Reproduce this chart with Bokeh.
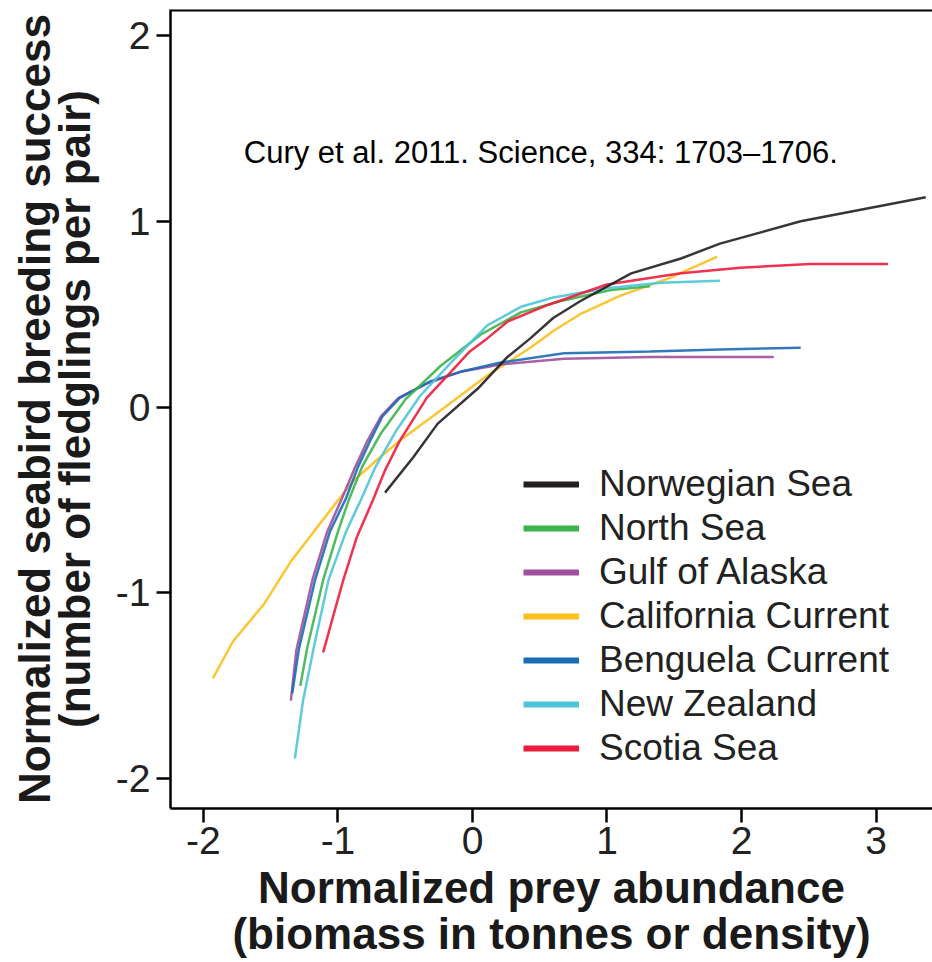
from bokeh.plotting import figure
from bokeh.models import (Range1d, Legend, LegendItem, Label, Span, FixedTicker,
                          CustomJSTickFormatter)
from bokeh.embed import file_html
from bokeh.resources import INLINE

# ---------------- data ----------------
norwegian_x = [-0.65, -0.44, -0.26, 0.04, 0.26, 0.43, 0.60, 0.80, 1.18, 1.55, 1.84, 2.44, 3.37]
norwegian_y = [-0.46, -0.27, -0.09, 0.10, 0.27, 0.37, 0.48, 0.57, 0.72, 0.80, 0.88, 1.00, 1.13]

north_sea_x = [-1.28, -1.23, -1.11, -1.00, -0.92, -0.82, -0.68, -0.50, -0.24, 0.06, 0.36, 0.65, 1.03, 1.32]
north_sea_y = [-1.50, -1.30, -0.93, -0.67, -0.50, -0.32, -0.14, 0.04, 0.22, 0.39, 0.51, 0.57, 0.63, 0.65]

alaska_x = [-1.35, -1.31, -1.19, -1.08, -0.97, -0.87, -0.78, -0.68, -0.55, -0.33, -0.09, 0.21, 0.68, 1.32, 2.24]
alaska_y = [-1.58, -1.31, -0.93, -0.67, -0.49, -0.32, -0.18, -0.05, 0.05, 0.13, 0.19, 0.23, 0.26, 0.27, 0.27]

california_x = [-1.93, -1.78, -1.55, -1.35, -1.18, -1.03, -0.89, -0.72, -0.54, -0.24, 0.11, 0.43, 0.60, 0.80, 1.10, 1.45, 1.82]
california_y = [-1.46, -1.26, -1.06, -0.83, -0.67, -0.53, -0.40, -0.29, -0.18, -0.02, 0.17, 0.32, 0.41, 0.50, 0.60, 0.69, 0.81]

benguela_x = [-1.34, -1.29, -1.17, -1.06, -0.94, -0.85, -0.76, -0.67, -0.54, -0.31, -0.09, 0.21, 0.68, 1.32, 1.84, 2.44]
benguela_y = [-1.54, -1.30, -0.93, -0.67, -0.49, -0.32, -0.18, -0.05, 0.05, 0.14, 0.19, 0.24, 0.29, 0.30, 0.31, 0.32]

new_zealand_x = [-1.32, -1.26, -1.17, -1.07, -0.94, -0.83, -0.72, -0.57, -0.39, -0.16, 0.11, 0.36, 0.60, 1.00, 1.40, 1.84]
new_zealand_y = [-1.89, -1.58, -1.26, -0.93, -0.67, -0.50, -0.32, -0.13, 0.06, 0.24, 0.44, 0.54, 0.59, 0.64, 0.67, 0.68]

scotia_x = [-1.11, -1.03, -0.96, -0.86, -0.74, -0.65, -0.54, -0.34, -0.16, -0.02, 0.11, 0.26, 0.56, 1.00, 1.55, 1.99, 2.51, 3.09]
scotia_y = [-1.32, -1.11, -0.93, -0.70, -0.50, -0.34, -0.18, 0.05, 0.19, 0.30, 0.37, 0.46, 0.55, 0.66, 0.72, 0.75, 0.77, 0.77]

series_names = ["Norwegian Sea", "North Sea", "Gulf of Alaska", "California Current",
                "Benguela Current", "New Zealand", "Scotia Sea"]
series_colors = ["#231f20", "#3cb44b", "#a0509c", "#fbbf1e", "#1c6cb4", "#4dc4d8", "#ec1c3c"]
series_x = [norwegian_x, north_sea_x, alaska_x, california_x, benguela_x, new_zealand_x, scotia_x]
series_y = [norwegian_y, north_sea_y, alaska_y, california_y, benguela_y, new_zealand_y, scotia_y]

x_ticks = [-2, -1, 0, 1, 2, 3]
y_ticks = [-2, -1, 0, 1, 2]

citation = "Cury et al. 2011. Science, 334: 1703\u20131706."
x_title = "Normalized prey abundance\n(biomass in tonnes or density)"
y_title = "Normalized seabird breeding success\n(number of fledglings per pair)"

# ---------------- layout / style ----------------
W, H = 932, 962
X_START, X_END = -2.245, 3.42
Y_START, Y_END = -2.16, 2.14
CITE_X, CITE_Y = -1.70, 1.37
FONT = "Liberation Sans"

p = figure(width=W, height=H, output_backend="svg", toolbar_location=None,
           x_range=Range1d(X_START, X_END), y_range=Range1d(Y_START, Y_END),
           min_border_left=170, min_border_right=0, min_border_top=9, min_border_bottom=154)
p.outline_line_color = None
p.grid.visible = False
p.background_fill_color = "white"
p.border_fill_color = "white"

for ax, ticks in ((p.xaxis[0], x_ticks), (p.yaxis[0], y_ticks)):
    ax.ticker = FixedTicker(ticks=ticks)
    ax.formatter = CustomJSTickFormatter(code="return tick.toFixed(0)")
    ax.minor_tick_line_color = None
    ax.axis_line_width = 2.5
    ax.axis_line_color = "black"
    ax.major_tick_line_width = 2.5
    ax.major_tick_line_color = "black"
    ax.major_tick_out = 14
    ax.major_tick_in = 0
    ax.major_label_text_font = FONT
    ax.major_label_text_font_size = "39px"
    ax.major_label_text_color = "#222222"
    ax.axis_label_text_font = FONT
    ax.axis_label_text_font_size = "44px"
    ax.axis_label_text_font_style = "bold"
    ax.axis_label_text_color = "#1a1a1a"

p.xaxis.axis_label = x_title
p.yaxis.axis_label = y_title
p.xaxis.axis_label_text_line_height = 0.95
p.yaxis.axis_label_text_line_height = 0.82
p.xaxis.major_label_standoff = 4
p.yaxis.major_label_standoff = 6
p.xaxis.axis_label_standoff = 6
p.yaxis.axis_label_standoff = 14

# top border of the frame
p.add_layout(Span(location=Y_END, dimension="width", line_color="black", line_width=4))

# curves (drawn thin)
draw_order = [3, 2, 4, 1, 5, 6, 0]
for i in draw_order:
    p.line(series_x[i], series_y[i], line_color=series_colors[i], line_width=2.5, line_alpha=0.9)

# legend proxies (a single point draws no line, but gives a thick legend swatch)
items = []
for name, color, xs, ys in zip(series_names, series_colors, series_x, series_y):
    r = p.line(x=xs[:1], y=ys[:1], line_color=color, line_width=6)
    items.append(LegendItem(label=name, renderers=[r]))

legend = Legend(items=items, location=(353, 38), border_line_color=None,
                background_fill_alpha=0, padding=0, margin=0, spacing=0,
                glyph_width=56, glyph_height=44, label_height=44, label_standoff=20,
                label_text_font=FONT, label_text_font_size="37px", label_text_color="#222222")
p.add_layout(legend)

p.add_layout(Label(x=CITE_X, y=CITE_Y, text=citation, text_font=FONT, text_font_size="31px",
                   text_color="black", text_baseline="alphabetic", text_align="left"))

open("out.html", "w").write(file_html(p, INLINE))
